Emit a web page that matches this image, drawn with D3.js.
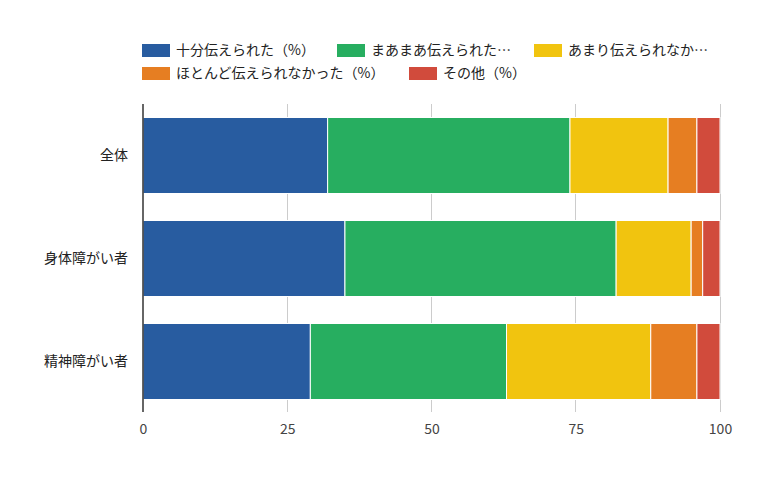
<!DOCTYPE html>
<html><head><meta charset="utf-8">
<script src="https://cdn.jsdelivr.net/npm/d3@7"></script>
<style>body{margin:0;background:#fff}svg{display:block}text{font-family:"Noto Sans CJK JP","Noto Sans",sans-serif}</style>
</head><body><svg id="c" width="780" height="477"></svg>
<script>
const categories = ["全体", "身体障がい者", "精神障がい者"];
const seriesNames = ["十分伝えられた（%）", "まあまあ伝えられた（%）", "あまり伝えられなかった（%）", "ほとんど伝えられなかった（%）", "その他（%）"];
const legendLabels = ["十分伝えられた（%）", "まあまあ伝えられた…", "あまり伝えられなか…", "ほとんど伝えられなかった（%）", "その他（%）"];
const s1 = [32, 35, 29];
const s2 = [42, 47, 34];
const s3 = [17, 13, 25];
const s4 = [5, 2, 8];
const s5 = [4, 3, 4];
const xTicks = [0, 25, 50, 75, 100];
const colors = ["#285ca0", "#27ae60", "#f1c40f", "#e67e22", "#d14b3c"];

(function () {
const seriesValues = [s1, s2, s3, s4, s5];
const svg = d3.select("#c");
const pL = 143, pR = 720, pT = 104, pB = 413;
const FF = '"Noto Sans CJK JP","Noto Sans",sans-serif';

const x = d3.scaleLinear().domain([0, 100]).range([pL, pR]);
const y = d3.scaleBand().domain(categories).range([pT, pB]).paddingInner(0.262).paddingOuter(0.131);

svg.append("g").selectAll("line").data(xTicks.filter(d => d > 0)).join("line")
  .attr("x1", d => x(d)).attr("x2", d => x(d)).attr("y1", pT).attr("y2", pB - 1)
  .attr("stroke", "#cccccc").attr("stroke-width", 1).attr("shape-rendering", "crispEdges");

const table = categories.map((c, i) => {
  const o = {cat: c};
  seriesNames.forEach((s, j) => o[s] = seriesValues[j][i]);
  return o;
});
const stack = d3.stack().keys(seriesNames)(table);

svg.append("g").selectAll("g").data(stack).join("g")
  .attr("fill", (d, i) => colors[i])
  .selectAll("rect").data(d => d).join("rect")
  .attr("x", d => x(d[0]))
  .attr("width", d => x(d[1]) - x(d[0]))
  .attr("y", d => y(d.data.cat))
  .attr("height", y.bandwidth())
  .attr("stroke", "#ffffff").attr("stroke-width", 1);

svg.append("line").attr("x1", x(0)).attr("x2", x(0)).attr("y1", pT).attr("y2", pB - 1)
  .attr("stroke", "#333333").attr("stroke-width", 1.5);

const xa = d3.axisBottom(x).tickValues(xTicks).tickSize(0).tickPadding(0);
const gx = svg.append("g").attr("transform", `translate(0,${pB})`).call(xa);
gx.select(".domain").remove();
gx.selectAll("text").attr("y", 11).attr("fill", "#444444").attr("font-size", 14)
  .attr("font-family", FF);

const ya = d3.axisLeft(y).tickSize(0).tickPadding(0);
const gy = svg.append("g").attr("transform", `translate(128,0)`).call(ya);
gy.select(".domain").remove();
gy.selectAll("text").attr("fill", "#222222").attr("font-size", 14)
  .attr("font-family", FF);

const legendPos = [[142, 44], [337, 44], [534, 44], [142, 67], [409, 67]];
const lg = svg.append("g");
legendLabels.forEach((t, i) => {
  const [lx, ly] = legendPos[i];
  lg.append("rect").attr("x", lx).attr("y", ly).attr("width", 28).attr("height", 13).attr("fill", colors[i]);
  lg.append("text").attr("x", lx + 34).attr("y", ly + 6.5).attr("dy", "0.35em")
    .attr("font-size", 14).attr("fill", "#222222").text(t);
});
})();
</script></body></html>
